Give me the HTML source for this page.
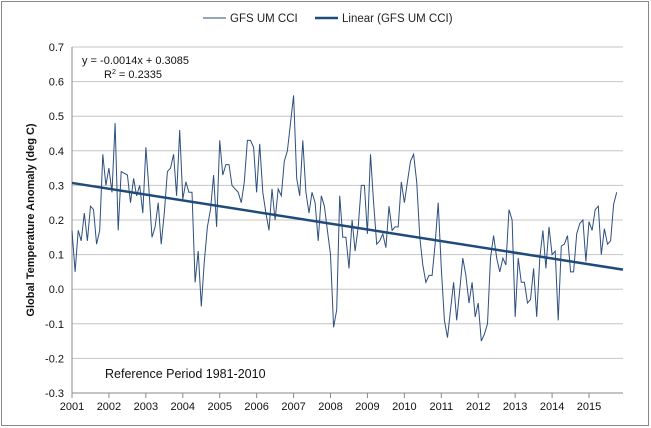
<!DOCTYPE html>
<html><head><meta charset="utf-8"><style>
body{margin:0;background:#fff}
svg{display:block;font-family:"Liberation Sans",Arial,sans-serif}
</style></head><body>
<svg id="c" width="651" height="428" viewBox="0 0 651 428">
<rect x="1.5" y="1.5" width="647" height="424" fill="#fff" stroke="#888"/>
<g id="grid"></g><g id="axes"></g><g id="marks"></g>
<g>
<line x1="203" y1="18" x2="226" y2="18" stroke="#2a4a78" stroke-width="1"/>
<text x="230" y="22" font-size="11.5" fill="#222">GFS UM CCI</text>
<line x1="315" y1="18" x2="338" y2="18" stroke="#1f4a7a" stroke-width="2.5"/>
<text x="342" y="22" font-size="11.5" fill="#222">Linear (GFS UM CCI)</text>
</g>
<text x="82" y="64" font-size="11" fill="#111">y = -0.0014x + 0.3085</text>
<text x="104" y="78" font-size="11" fill="#111">R<tspan font-size="7" dy="-4">2</tspan><tspan dy="4"> = 0.2335</tspan></text>
<text x="105" y="378" font-size="12.5" fill="#111">Reference Period 1981-2010</text>
<text transform="translate(34,220) rotate(-90)" text-anchor="middle" font-size="11" font-weight="bold" fill="#111">Global Temperature Anomaly (deg C)</text>
</svg>
<script>
const yTicks=[-0.3,-0.2,-0.1,0.0,0.1,0.2,0.3,0.4,0.5,0.6,0.7];
const yearLabels=[2001,2002,2003,2004,2005,2006,2007,2008,2009,2010,2011,2012,2013,2014,2015];
const startYear=2001;
const anomaly=[0.17,0.05,0.17,0.14,0.22,0.14,0.24,0.23,0.13,0.17,0.39,0.30,0.35,0.28,0.48,0.17,0.34,0.335,0.33,0.25,0.32,0.27,0.30,0.22,0.41,0.29,0.15,0.18,0.25,0.13,0.22,0.34,0.35,0.39,0.27,0.46,0.26,0.31,0.28,0.28,0.02,0.11,-0.05,0.08,0.18,0.23,0.33,0.18,0.43,0.33,0.36,0.36,0.30,0.29,0.28,0.25,0.31,0.43,0.43,0.41,0.28,0.42,
0.28,0.22,0.17,0.29,0.20,0.29,0.27,0.37,0.40,0.48,0.56,0.32,0.27,0.43,0.28,0.22,0.28,0.25,0.14,0.27,0.24,0.17,0.10,-0.11,-0.06,0.27,0.15,0.15,0.06,0.20,0.11,0.18,0.30,0.30,0.16,0.39,0.25,0.13,0.14,0.16,0.12,0.24,0.17,0.18,0.18,0.31,0.25,0.31,0.37,0.39,0.31,0.15,0.07,0.02,0.04,0.04,0.13,0.25,0.06,-0.09,
-0.14,-0.06,0.02,-0.09,0.00,0.09,0.04,-0.04,0.02,-0.08,-0.04,-0.15,-0.13,-0.10,0.09,0.155,0.09,0.05,0.09,0.07,0.23,0.20,-0.08,0.09,0.02,0.02,-0.04,-0.03,0.06,-0.08,0.09,0.17,0.06,0.18,0.10,0.11,-0.09,0.125,0.13,0.155,0.05,0.05,0.16,0.19,0.20,0.08,0.195,0.17,0.23,0.24,0.10,0.175,0.13,0.14,0.245,0.28];
const trendSlope=-0.0014, trendIntercept=0.3085;
const X0=72,X1=623,Y0=393,Y1=47,yMin=-0.3,yMax=0.7,pxYear=36.93;
const xEnd=startYear+(X1-X0)/pxYear;
const sx=t=>X0+(t-startYear)*pxYear;
const sy=v=>Y0-(v-yMin)/(yMax-yMin)*(Y0-Y1);
const NS="http://www.w3.org/2000/svg";
function mk(tag,attrs,parent,txt){const e=document.createElementNS(NS,tag);for(const k in attrs)e.setAttribute(k,attrs[k]);if(txt!=null)e.textContent=txt;document.getElementById(parent).appendChild(e);return e;}
yTicks.forEach(v=>{
 const g=mk('line',{x1:X0,x2:X1,y1:sy(v),y2:sy(v),stroke:v===yMin?'#888':'#c4c4c4','stroke-width':1},'grid');
 
 
 const t=mk('text',{x:X0-8,y:sy(v)+4,'text-anchor':'end','font-size':11,fill:'#111'},'axes',v.toFixed(1));
 
 
});
const ax=mk('line',{x1:X0,x2:X0,y1:Y1,y2:Y0,stroke:'#888'},'axes');


yearLabels.forEach(y=>{
 const tk=mk('line',{x1:sx(y),x2:sx(y),y1:Y0,y2:Y0+5,stroke:'#888'},'axes');
 
 
 const t=mk('text',{x:sx(y),y:Y0+17,'text-anchor':'middle','font-size':11,fill:'#111'},'axes',String(y));
 
 
});
const pts=anomaly.map((v,i)=>sx(startYear+i/12).toFixed(1)+','+sy(v).toFixed(1)).join(' ');
const pl=mk('polyline',{points:pts,fill:'none',stroke:'#2e4f7e','stroke-width':1},'marks');


const iEnd=(xEnd-startYear)*12;
const tr=mk('line',{x1:sx(startYear),y1:sy(trendIntercept+trendSlope),x2:X1,y2:sy(trendIntercept+trendSlope*(iEnd+1)),stroke:'#1f4a7a','stroke-width':2.5},'marks');


</script>
</body></html>
